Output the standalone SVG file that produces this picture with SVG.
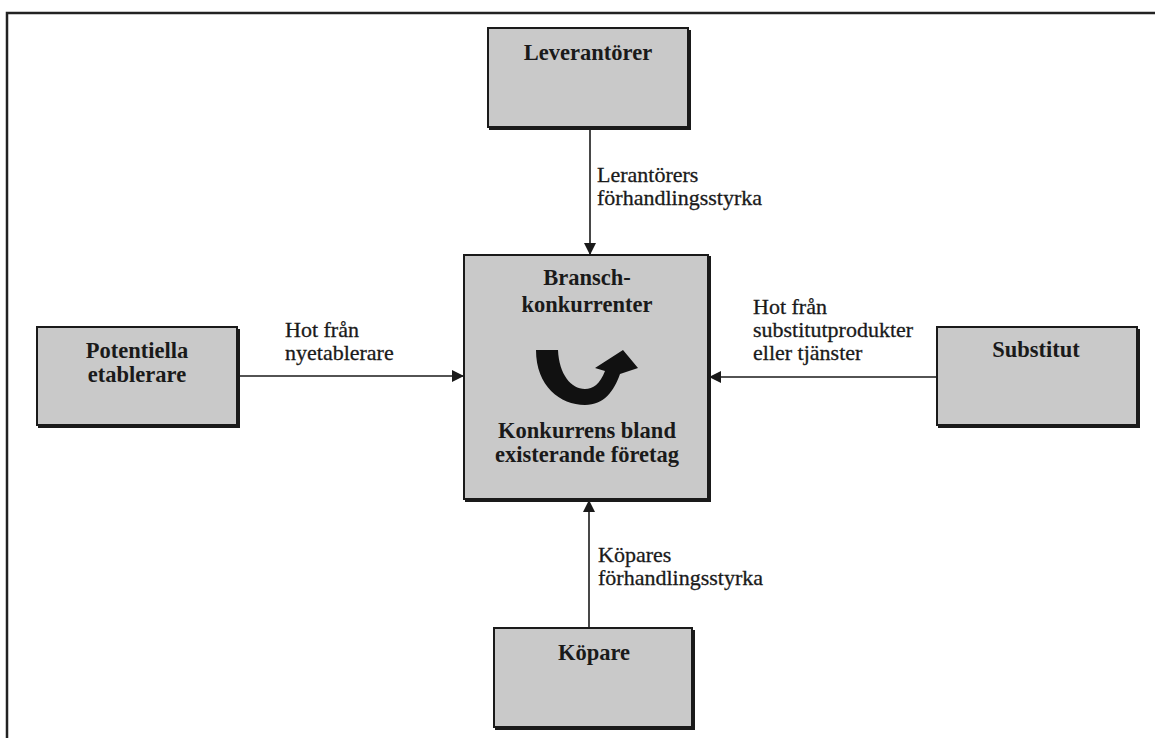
<svg xmlns="http://www.w3.org/2000/svg" width="1155" height="738" viewBox="0 0 1155 738">
<style>
.box{fill:#c9c9c9;stroke:#1a1a1a;stroke-width:2}
.shadow{fill:#1a1a1a}
.bl{font-family:"Liberation Serif","Times New Roman","DejaVu Serif",serif;font-weight:bold;font-size:22.5px;fill:#1a1a1a;text-anchor:middle}
.lbl{font-family:"Liberation Serif","Times New Roman","DejaVu Serif",serif;font-size:22px;fill:#1a1a1a;stroke:#1a1a1a;stroke-width:0.3}
.con{stroke:#1a1a1a;stroke-width:1.6;fill:none;marker-end:url(#ah)}
.frame{stroke:#222;stroke-width:2.5;fill:none}
</style>
<defs>
<marker id="ah" viewBox="0 0 12 12" refX="12" refY="6" markerWidth="12" markerHeight="13" markerUnits="userSpaceOnUse" orient="auto">
<path d="M0,0 L12,6 L0,12 Z" fill="#1a1a1a"/>
</marker>
</defs>
<rect width="1155" height="738" fill="#fff"/>
<path class="frame" d="M7,738 L7,13 L1155,13"/>
<g id="connectors">
<line class="con" x1="590" y1="128" x2="590" y2="255"/>
<line class="con" x1="589" y1="628" x2="589" y2="500"/>
<line class="con" x1="238" y1="376" x2="464" y2="376"/>
<line class="con" x1="937" y1="377" x2="709" y2="377"/>
<text class="lbl" x="597" y="182">Lerantörers</text>
<text class="lbl" x="597" y="205">förhandlingsstyrka</text>
<text class="lbl" x="598" y="562">Köpares</text>
<text class="lbl" x="598" y="585">förhandlingsstyrka</text>
<text class="lbl" x="285" y="337">Hot från</text>
<text class="lbl" x="285" y="360">nyetablerare</text>
<text class="lbl" x="753" y="314">Hot från</text>
<text class="lbl" x="753" y="337">substitutprodukter</text>
<text class="lbl" x="753" y="360">eller tjänster</text>
</g>
<g id="leverantorer">
<rect class="shadow" x="489" y="30" width="202" height="100"/>
<rect class="box" x="488" y="28" width="200" height="99"/>
<text class="bl" x="588" y="60">Leverantörer</text>
</g>
<g id="bransch">
<rect class="shadow" x="465" y="256" width="246" height="246"/>
<rect class="box" x="464" y="255" width="244" height="244"/>
<text class="bl" x="587" y="285">Bransch-</text>
<text class="bl" x="587" y="312">konkurrenter</text>
<path d="M536,350 C536,386 560,405 585,405 C604,405 614,391 620,374 L638,368 L623,350 L595,368 L605,371 C600,384 593,389 585,389 C571,389 559,374 558,350 Z" fill="#111"/>
<text class="bl" x="587" y="438">Konkurrens bland</text>
<text class="bl" x="587" y="462">existerande företag</text>
</g>
<g id="potentiella">
<rect class="shadow" x="38" y="329" width="202" height="99"/>
<rect class="box" x="37" y="327" width="200" height="98"/>
<text class="bl" x="137" y="358">Potentiella</text>
<text class="bl" x="137" y="382">etablerare</text>
</g>
<g id="substitut">
<rect class="shadow" x="938" y="329" width="202" height="99"/>
<rect class="box" x="937" y="327" width="200" height="98"/>
<text class="bl" x="1036" y="357">Substitut</text>
</g>
<g id="kopare">
<rect class="shadow" x="495" y="630" width="200" height="100"/>
<rect class="box" x="494" y="628" width="198" height="99"/>
<text class="bl" x="594" y="660">Köpare</text>
</g>
</svg>
